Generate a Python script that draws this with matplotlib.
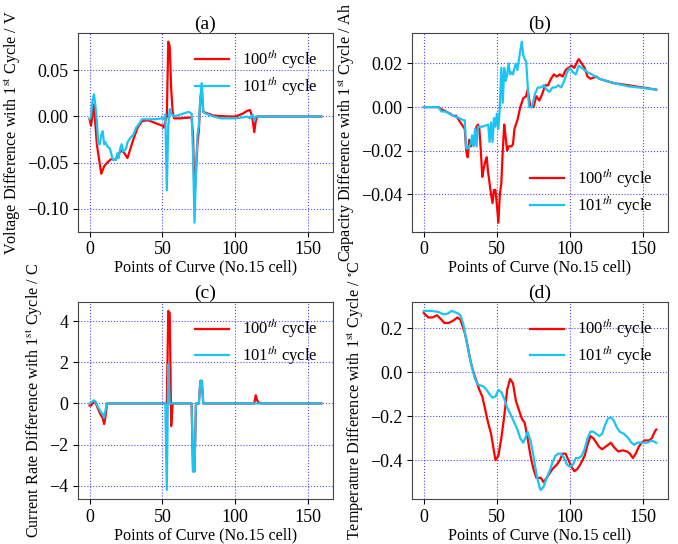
import numpy as np
import matplotlib
matplotlib.use("Agg")
import matplotlib.pyplot as plt

plt.rcParams["font.family"] = ["Liberation Serif", "DejaVu Serif"]
plt.rcParams["mathtext.fontset"] = "stix"
plt.rcParams["font.size"] = 13

# (a) voltage difference
va_x100 = [0, 1, 3, 5, 8, 10, 12, 15, 18, 20, 22, 24, 26, 28, 30, 33, 36, 40, 45, 50, 51, 52, 53, 54, 55, 56, 57, 58,
           62, 70, 71, 72, 73, 74, 75, 76, 77, 78, 85, 95, 100, 105, 108, 110, 111, 112, 113, 114, 115, 159]
va_y100 = [-0.003, -0.01, 0.013, -0.03, -0.062, -0.054, -0.05, -0.046, -0.047, -0.04, -0.037, -0.04, -0.045, -0.035,
           -0.025, -0.012, -0.005, -0.004, -0.007, -0.01, -0.012, -0.005, 0.0, 0.081, 0.076, 0.03, 0.005, -0.002,
           -0.002, -0.001, -0.02, -0.09, -0.06, -0.03, -0.015, 0.02, 0.028, 0.005, 0.001, 0.0, 0.0, 0.003, 0.006,
           0.007, 0.003, -0.005, -0.017, -0.005, 0.0, 0.0]
va_x101 = [0, 1, 2, 3, 4, 5, 6, 7, 8, 9, 10, 11, 12, 14, 16, 18, 19, 20, 21, 22, 23, 25, 26, 28, 30, 32, 34, 36, 40,
           45, 50, 51, 52, 53, 54, 55, 56, 58, 62, 66, 68, 70, 71, 72, 73, 74, 75, 76, 77, 78, 80, 85, 90, 100, 105,
           108, 110, 112, 113, 114, 159]
va_y101 = [-0.003, 0.0, 0.017, 0.024, 0.012, -0.005, -0.03, -0.03, -0.02, -0.016, -0.03, -0.028, -0.032, -0.035,
           -0.047, -0.047, -0.04, -0.045, -0.035, -0.03, -0.038, -0.035, -0.028, -0.023, -0.02, -0.012, -0.008,
           -0.003, -0.003, -0.003, -0.002, -0.003, 0.002, -0.08, -0.01, 0.008, 0.003, 0.0, 0.002, 0.004, 0.005,
           0.003, -0.04, -0.115, -0.06, -0.02, -0.01, 0.02, 0.036, 0.005, 0.003, 0.0, -0.002, -0.002, -0.001, 0.0,
           -0.002, 0.002, -0.005, 0.0, 0.0]

# (b) capacity difference
cb_x100 = [0, 10, 12, 15, 18, 20, 22, 24, 26, 28, 29, 30, 31, 32, 33, 34, 35, 36, 37, 38, 39, 40, 41, 42, 43, 44,
           45, 46, 47, 48, 49, 50, 51, 52, 53, 54, 55, 56, 57, 58, 60, 61, 62, 64, 66, 68, 70, 71, 73, 75, 77, 79,
           81, 83, 85, 87, 89, 91, 93, 95, 97, 99, 101, 103, 105, 106, 108, 110, 112, 114, 118, 120, 125, 130, 140,
           150, 159]
cb_y100 = [0.0, 0.0, -0.001, -0.002, -0.003, -0.004, -0.004, -0.006, -0.008, -0.01, -0.02, -0.023, -0.015, -0.018,
           -0.017, -0.017, -0.015, -0.009, -0.008, -0.01, -0.02, -0.032, -0.028, -0.025, -0.023, -0.03, -0.035,
           -0.04, -0.044, -0.038, -0.038, -0.045, -0.053, -0.04, -0.035, -0.02, -0.008, -0.014, -0.02, -0.018,
           -0.018, -0.017, -0.01, -0.006, 0.0, 0.004, 0.005, 0.008, 0.0, 0.0, 0.005, 0.003, 0.006, 0.01, 0.01,
           0.013, 0.015, 0.014, 0.015, 0.014, 0.017, 0.018, 0.019, 0.018, 0.021, 0.022, 0.02, 0.018, 0.014, 0.013,
           0.014, 0.013, 0.012, 0.011, 0.01, 0.009, 0.008]
cb_x101 = [0, 10, 12, 15, 20, 24, 27, 28, 29, 30, 32, 33, 34, 35, 36, 37, 40, 44, 45, 46, 47, 48, 49, 50, 51, 52,
           53, 54, 55, 56, 57, 58, 59, 60, 61, 62, 63, 64, 66, 67, 68, 69, 70, 72, 74, 76, 78, 80, 82, 84, 86, 88,
           90, 92, 94, 96, 98, 100, 102, 104, 106, 108, 110, 112, 115, 120, 125, 130, 140, 150, 159]
cb_y101 = [0.0, 0.0, -0.002, -0.002, -0.004, -0.005, -0.006, -0.006, -0.019, -0.019, -0.017, -0.013, -0.018, -0.01,
           -0.018, -0.009, -0.009, -0.008, -0.016, -0.007, -0.016, -0.005, -0.009, -0.003, -0.01, 0.0, 0.018, 0.002,
           0.018, 0.012, 0.015, 0.02, 0.015, 0.016, 0.015, 0.018, 0.02, 0.017, 0.026, 0.03, 0.024, 0.022, 0.021,
           0.0, 0.0, 0.006, 0.009, 0.009, 0.01, 0.008, 0.007, 0.009, 0.009, 0.01, 0.009, 0.012, 0.016, 0.018, 0.016,
           0.015, 0.019, 0.018, 0.017, 0.016, 0.015, 0.013, 0.012, 0.011, 0.0095, 0.0088, 0.008]

# (c) current rate difference
ic_x100 = [0, 1, 2, 3, 4, 6, 7, 8, 9, 10, 11, 12, 53, 54, 55, 56, 57, 70, 71, 72, 73, 75, 76, 77, 78, 113, 114,
           115, 116, 118, 159]
ic_y100 = [-0.1, -0.1, 0.0, 0.1, 0.05, -0.3, -0.45, -0.6, -0.7, -1.0, -0.6, 0.0, 0.0, 4.5, 4.4, -1.1, 0.0, 0.0,
           -3.3, -3.3, 0.0, 0.0, 1.1, 1.1, 0.0, 0.0, 0.4, 0.15, 0.05, 0.0, 0.0]
ic_x101 = [0, 2, 3, 4, 6, 8, 9, 10, 11, 12, 52, 53, 54, 55, 70, 71, 72, 73, 75, 76, 77, 78, 159]
ic_y101 = [0.0, 0.1, 0.15, 0.1, -0.2, -0.45, -0.5, -0.7, -0.3, 0.0, 0.0, -4.2, 1.9, 0.0, 0.0, -3.3, -3.3, 0.0,
           0.0, 1.1, 1.1, 0.0, 0.0]

# (d) temperature difference
td_x100 = [0, 3, 6, 9, 12, 14, 17, 20, 23, 25, 28, 30, 32, 34, 36, 38, 40, 42, 44, 46, 48, 49, 51, 53, 55, 57, 59,
           61, 63, 65, 67, 69, 71, 73, 75, 77, 80, 82, 85, 88, 91, 93, 95, 97, 99, 101, 103, 105, 107, 110, 112,
           114, 116, 118, 120, 122, 124, 126, 128, 130, 133, 136, 139, 141, 143, 145, 147, 149, 151, 154, 156, 158,
           159]
td_y100 = [0.27, 0.25, 0.25, 0.26, 0.24, 0.225, 0.225, 0.235, 0.25, 0.24, 0.18, 0.12, 0.05, 0.0, -0.04, -0.08,
           -0.11, -0.17, -0.23, -0.28, -0.36, -0.4, -0.38, -0.3, -0.2, -0.08, -0.03, -0.05, -0.13, -0.17, -0.21,
           -0.23, -0.3, -0.38, -0.44, -0.48, -0.48, -0.5, -0.47, -0.44, -0.42, -0.4, -0.37, -0.37, -0.4, -0.43,
           -0.45, -0.44, -0.42, -0.38, -0.33, -0.29, -0.3, -0.32, -0.34, -0.35, -0.34, -0.33, -0.32, -0.34, -0.36,
           -0.355, -0.36, -0.37, -0.39, -0.37, -0.34, -0.32, -0.31, -0.31, -0.3, -0.27, -0.26]
td_x101 = [0, 5, 10, 13, 15, 17, 19, 21, 23, 25, 27, 29, 31, 33, 35, 37, 39, 41, 43, 45, 47, 49, 51, 53, 55, 57,
           60, 62, 64, 66, 68, 70, 71, 73, 75, 77, 79, 80, 82, 84, 86, 88, 90, 92, 94, 96, 98, 100, 102, 104, 106,
           108, 110, 112, 114, 116, 118, 120, 122, 124, 126, 128, 130, 132, 134, 137, 140, 142, 144, 146, 148, 150,
           153, 156, 159]
td_y101 = [0.28, 0.28, 0.275, 0.265, 0.265, 0.27, 0.28, 0.275, 0.27, 0.26, 0.22, 0.15, 0.08, 0.02, -0.03, -0.055,
           -0.06, -0.065, -0.08, -0.1, -0.115, -0.11, -0.08, -0.09, -0.12, -0.16, -0.2, -0.23, -0.26, -0.3, -0.32,
           -0.29, -0.27, -0.31, -0.38, -0.46, -0.52, -0.535, -0.52, -0.48, -0.45, -0.41, -0.38, -0.37, -0.37, -0.39,
           -0.42, -0.43, -0.42, -0.39, -0.39, -0.38, -0.35, -0.3, -0.27, -0.27, -0.28, -0.29, -0.28, -0.24, -0.21,
           -0.205, -0.22, -0.25, -0.27, -0.28, -0.3, -0.32, -0.33, -0.32, -0.32, -0.32, -0.32, -0.31, -0.32]

panels = [
    ("(a)", "Voltage Difference with 1$^{\\mathrm{st}}$ Cycle / V", va_x100, va_y100, va_x101, va_y101, "upper right"),
    ("(b)", "Capacity Difference with 1$^{\\mathrm{st}}$ Cycle / Ah", cb_x100, cb_y100, cb_x101, cb_y101, "lower right"),
    ("(c)", "Current Rate Difference with 1$^{\\mathrm{st}}$ Cycle / C", ic_x100, ic_y100, ic_x101, ic_y101, "upper right"),
    ("(d)", "Temperature Difference with 1$^{\\mathrm{st}}$ Cycle / $^{\\circ}$C", td_x100, td_y100, td_x101, td_y101, "upper right"),
]

boxes = [[0.115, 0.574, 0.376, 0.366], [0.608, 0.574, 0.377, 0.366],
         [0.115, 0.083, 0.376, 0.362], [0.608, 0.083, 0.377, 0.362]]

fig = plt.figure(figsize=(6.78, 5.44), dpi=100)

for box, (title, ylab, x1, y1, x2, y2, loc) in zip(boxes, panels):
    ax = fig.add_axes(box)
    ax.plot(x1, y1, color="red", lw=1.6, label="100$^{th}$ cycle")
    ax.plot(x2, y2, color="#1AC4F5", lw=1.6, label="101$^{th}$ cycle")
    ax.grid(True, color="blue", linestyle=":", lw=0.8, alpha=0.7)
    ax.set_title(title, fontsize=14, pad=3)
    ax.set_xlabel("Points of Curve (No.15 cell)", fontsize=11.6, labelpad=1)
    ax.set_ylabel(ylab, fontsize=11.6, labelpad=3)
    ax.set_xticks([0, 50, 100, 150])
    for s in ax.spines.values():
        s.set_color("#444444")
    ax.legend(loc=loc, frameon=False, fontsize=12, labelspacing=0.2)

fig.savefig("out.png", dpi=100)
